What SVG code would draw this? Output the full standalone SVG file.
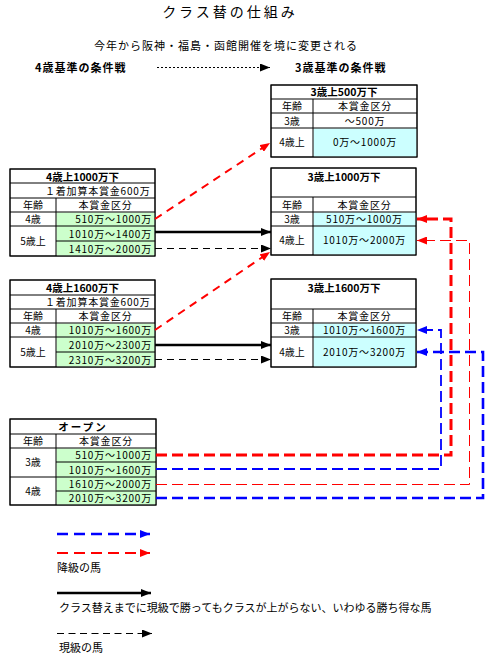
<svg xmlns="http://www.w3.org/2000/svg" width="495" height="663" viewBox="0 0 495 663">
<defs>
<style>
text{font-family:"Noto Sans CJK JP","Noto Sans",sans-serif;font-size:11px;fill:#000}
.t text{font-size:10px}
.t .v{letter-spacing:0.8px}
.t .b{font-size:10.5px}
.b{font-weight:bold}
.c{text-anchor:middle}
.e{text-anchor:end}
.box{fill:#fff;stroke:#000;stroke-width:1}
.ln{stroke:#000;stroke-width:1;fill:none}
.g{fill:#ccffcc}
.cy{fill:#ccffff}
.cn{fill:none}
</style>
<marker id="ak" viewBox="0 0 10 8" refX="10" refY="4" markerWidth="10" markerHeight="8" markerUnits="userSpaceOnUse" orient="auto"><path d="M0,0L10,4L0,8z" fill="#000"/></marker>
<marker id="ar" viewBox="0 0 10 8" refX="10" refY="4" markerWidth="10" markerHeight="8" markerUnits="userSpaceOnUse" orient="auto"><path d="M0,0L10,4L0,8z" fill="#f00"/></marker>
<marker id="ab" viewBox="0 0 10 8" refX="10" refY="4" markerWidth="10" markerHeight="8" markerUnits="userSpaceOnUse" orient="auto"><path d="M0,0L10,4L0,8z" fill="#00f"/></marker>
</defs>
<rect width="495" height="663" fill="#fff"/>

<g id="header">
<text x="230" y="17" class="c" style="font-size:14px;letter-spacing:3px">クラス替の仕組み</text>
<text x="226" y="50" class="c" style="letter-spacing:1px">今年から阪神・福島・函館開催を境に変更される</text>
<text x="35" y="72" class="b" style="letter-spacing:1px">4歳基準の条件戦</text>
<text x="295" y="72" class="b" style="letter-spacing:1px">3歳基準の条件戦</text>
</g>

<g id="c4-1000" class="t">
<rect class="box" x="10" y="169" width="145" height="87"/>
<rect class="g" x="56.5" y="212.5" width="98" height="43"/>
<path class="ln" d="M10,183H155M10,198H155M10,212H155M10,226H155M56,241H155M56,198V256"/>
<rect class="box cn" x="10" y="169" width="145" height="87"/>
<text x="82.5" y="180.5" class="c b">4歳上1000万下</text>
<text x="45" y="195" class="v">１着加算本賞金600万</text>
<text x="33" y="209.3" class="c">年齢</text>
<text x="105.5" y="209.3" class="c v">本賞金区分</text>
<text x="33" y="223.3" class="c">4歳</text>
<text x="152" y="223.3" class="e v">510万〜1000万</text>
<text x="33" y="245" class="c">5歳上</text>
<text x="152" y="237.8" class="e v">1010万〜1400万</text>
<text x="152" y="252.8" class="e v">1410万〜2000万</text>
</g>

<g id="c3-500" class="t">
<rect class="box" x="271" y="85" width="146" height="72"/>
<rect class="cy" x="313.5" y="128.5" width="103" height="28"/>
<path class="ln" d="M271,99H417M271,113H417M271,128H417M313,99V157"/>
<rect class="box cn" x="271" y="85" width="146" height="72"/>
<text x="344" y="96.3" class="c b">3歳上500万下</text>
<text x="292" y="110.3" class="c">年齢</text>
<text x="365" y="110.3" class="c v">本賞金区分</text>
<text x="292" y="124.5" class="c">3歳</text>
<text x="365" y="124.5" class="c v">〜500万</text>
<text x="292" y="146" class="c">4歳上</text>
<text x="365" y="146" class="c v">0万〜1000万</text>
</g>

<g id="c3-1000" class="t">
<rect class="box" x="271" y="168" width="145" height="87"/>
<rect class="cy" x="313.5" y="212.5" width="102" height="42"/>
<path class="ln" d="M271,197H416M271,212H416M271,226H416M313,197V255"/>
<rect class="box cn" x="271" y="168" width="145" height="87"/>
<text x="344" y="181" class="c b">3歳上1000万下</text>
<text x="292" y="209" class="c">年齢</text>
<text x="364.5" y="209" class="c v">本賞金区分</text>
<text x="292" y="223.3" class="c">3歳</text>
<text x="364.5" y="223.3" class="c v">510万〜1000万</text>
<text x="292" y="244" class="c">4歳上</text>
<text x="364.5" y="244" class="c v">1010万〜2000万</text>
</g>

<g id="c4-1600" class="t">
<rect class="box" x="10" y="280" width="145" height="87"/>
<rect class="g" x="56.5" y="323.5" width="98" height="43"/>
<path class="ln" d="M10,295H155M10,309H155M10,323H155M10,337H155M56,352H155M56,309V367"/>
<rect class="box cn" x="10" y="280" width="145" height="87"/>
<text x="82.5" y="291.5" class="c b">4歳上1600万下</text>
<text x="45" y="306" class="v">１着加算本賞金600万</text>
<text x="33" y="320.3" class="c">年齢</text>
<text x="105.5" y="320.3" class="c v">本賞金区分</text>
<text x="33" y="334.3" class="c">4歳</text>
<text x="152" y="334.3" class="e v">1010万〜1600万</text>
<text x="33" y="356" class="c">5歳上</text>
<text x="152" y="348.8" class="e v">2010万〜2300万</text>
<text x="152" y="363.8" class="e v">2310万〜3200万</text>
</g>

<g id="c3-1600" class="t">
<rect class="box" x="271" y="279" width="145" height="88"/>
<rect class="cy" x="313.5" y="323.5" width="102" height="43"/>
<path class="ln" d="M271,309H416M271,323H416M271,337H416M313,309V367"/>
<rect class="box cn" x="271" y="279" width="145" height="88"/>
<text x="344" y="292" class="c b">3歳上1600万下</text>
<text x="292" y="320.3" class="c">年齢</text>
<text x="364.5" y="320.3" class="c v">本賞金区分</text>
<text x="292" y="334.3" class="c">3歳</text>
<text x="364.5" y="334.3" class="c v">1010万〜1600万</text>
<text x="292" y="356" class="c">4歳上</text>
<text x="364.5" y="356" class="c v">2010万〜3200万</text>
</g>

<g id="open" class="t">
<rect class="box" x="10" y="419" width="146" height="86"/>
<rect class="g" x="56.5" y="448.5" width="99" height="56"/>
<path class="ln" d="M10,434H156M10,448H156M56,462H156M10,477H156M56,491H156M56,434V505"/>
<rect class="box cn" x="10" y="419" width="146" height="86"/>
<text x="83" y="430.5" class="c b" style="letter-spacing:2px">オープン</text>
<text x="33" y="445.3" class="c">年齢</text>
<text x="106" y="445.3" class="c v">本賞金区分</text>
<text x="33" y="466" class="c">3歳</text>
<text x="152" y="459.3" class="e v">510万〜1000万</text>
<text x="152" y="473.5" class="e v">1010万〜1600万</text>
<text x="33" y="495" class="c">4歳</text>
<text x="152" y="488.3" class="e v">1610万〜2000万</text>
<text x="152" y="502.3" class="e v">2010万〜3200万</text>
</g>

<g id="connectors" fill="none">
<line x1="157" y1="67.5" x2="270" y2="67.5" stroke="#000" stroke-width="1" stroke-dasharray="2 2" marker-end="url(#ak)"/>
<line x1="155" y1="219" x2="270" y2="143" stroke="#f00" stroke-width="2" stroke-dasharray="8 6" marker-end="url(#ar)"/>
<line x1="155" y1="232" x2="271" y2="232" stroke="#000" stroke-width="2.5" marker-end="url(#ak)"/>
<line x1="155" y1="248.5" x2="271" y2="248.5" stroke="#000" stroke-width="1" stroke-dasharray="7 5" marker-end="url(#ak)"/>
<line x1="155" y1="330" x2="270" y2="252" stroke="#f00" stroke-width="2" stroke-dasharray="8 6" marker-end="url(#ar)"/>
<line x1="155" y1="345" x2="271" y2="345" stroke="#000" stroke-width="2.5" marker-end="url(#ak)"/>
<line x1="155" y1="359.5" x2="271" y2="359.5" stroke="#000" stroke-width="1" stroke-dasharray="7 5" marker-end="url(#ak)"/>
<path d="M156,455H451V219H417" stroke="#f00" stroke-width="3" stroke-dasharray="11 5" marker-end="url(#ar)"/>
<path d="M156,469H441V330H417" stroke="#00f" stroke-width="1.8" stroke-dasharray="11 5" marker-end="url(#ab)"/>
<path d="M156,484.5H469.5V240.5H417" stroke="#f00" stroke-width="1" stroke-dasharray="11 5" marker-end="url(#ar)"/>
<path d="M156,498H483V352H417" stroke="#00f" stroke-width="2.6" stroke-dasharray="11 5" marker-end="url(#ab)"/>
</g>

<g id="legend">
<line x1="57" y1="534" x2="150" y2="534" stroke="#00f" stroke-width="2.5" stroke-dasharray="11 6" marker-end="url(#ab)"/>
<line x1="57" y1="553" x2="150" y2="553" stroke="#f00" stroke-width="1.8" stroke-dasharray="11 6" marker-end="url(#ar)"/>
<text x="57" y="572">降級の馬</text>
<line x1="57" y1="593" x2="151" y2="593" stroke="#000" stroke-width="2.5" marker-end="url(#ak)"/>
<text x="59" y="612">クラス替えまでに現級で勝ってもクラスが上がらない、いわゆる勝ち得な馬</text>
<line x1="57" y1="633.5" x2="152" y2="633.5" stroke="#000" stroke-width="1" stroke-dasharray="7 4.5" marker-end="url(#ak)"/>
<text x="59" y="652">現級の馬</text>
</g>
</svg>
